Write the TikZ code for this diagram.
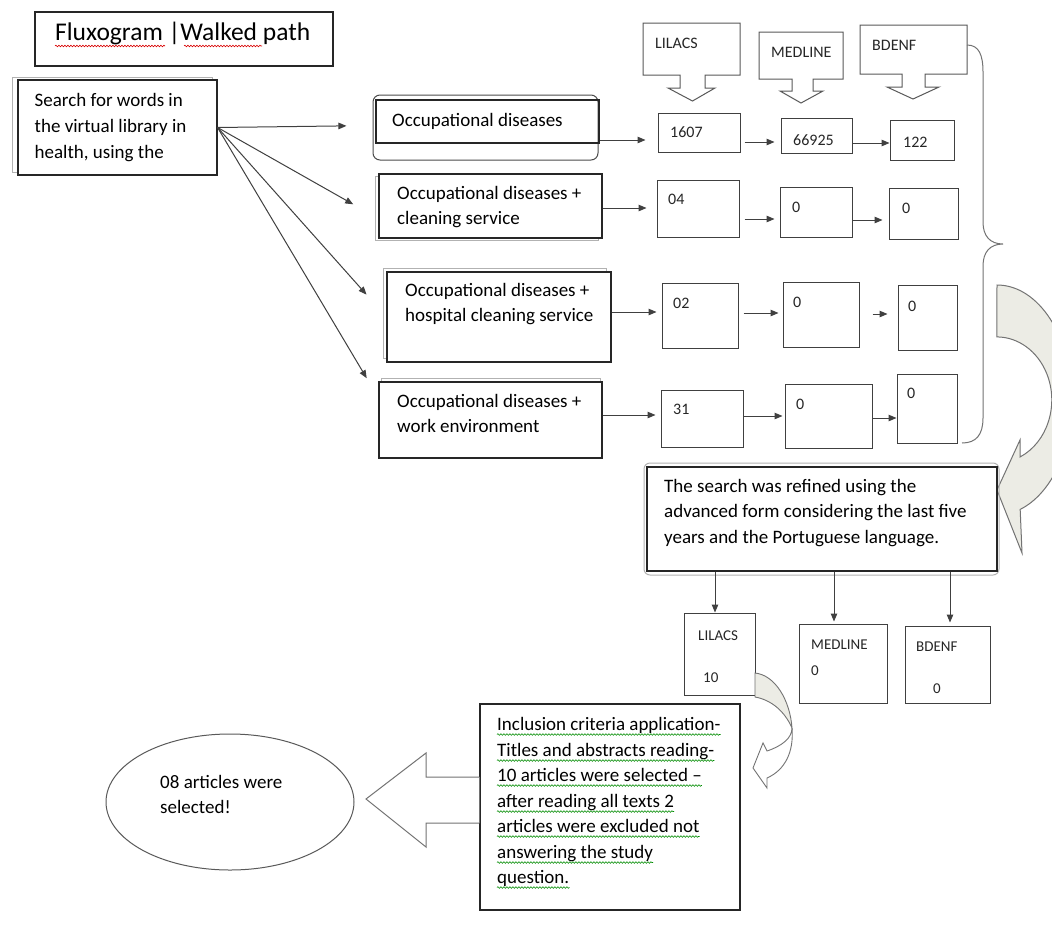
\documentclass[tikz,border=0pt]{standalone}
\usepackage{fontspec}
\setmainfont{Carlito}
\usetikzlibrary{arrows.meta,calc,shapes.geometric,decorations.pathmorphing}
\newcommand\Tstr{\rule{0pt}{16pt}}
\definecolor{arrfill}{RGB}{236,236,229}
\begin{document}
\begin{tikzpicture}[x=1pt,y=-1pt,
  bx/.style={draw=black!85, line width=1.1pt, rectangle, inner sep=0pt},
  nb/.style={draw=black!75, line width=1pt, rectangle, inner sep=0pt},
  shad/.style={draw=black!30, line width=1pt},
  txt/.style={inner sep=0pt, align=left, anchor=north west, font=\fontsize{19}{25.5}\selectfont},
  lbl/.style={inner sep=0pt, anchor=base west, font=\fontsize{16}{19}\selectfont, text=black!85},
  slbl/.style={inner sep=0pt, anchor=base west, font=\fontsize{15}{18}\selectfont, text=black!85},
  ln/.style={inner sep=0pt, anchor=base west, font=\fontsize{19}{25.5}\selectfont},
  arr/.style={draw=black!75, line width=1pt, -{Triangle[length=8pt,width=6.5pt]}},
  callout/.style={draw=black!65, line width=1pt, fill=white},
  sqr/.style={draw=red!85!black, line width=0.6pt, decorate, decoration={snake, amplitude=0.8pt, segment length=3pt}},
  sqg/.style={draw=green!55!black, line width=0.6pt, decorate, decoration={snake, amplitude=0.8pt, segment length=3pt}},
  curv/.style={draw=black!55, line width=1pt, fill=arrfill},
]
\useasboundingbox (0,0) rectangle (1052,924);
\fill[white] (0,0) rectangle (1052,924);
\clip (0,0) rectangle (1052,924);

% title
\node[bx, minimum width=298pt, minimum height=54pt] (title) at (184,39) {};
\node[inner sep=0pt, anchor=base west, font=\fontsize{25.5}{30}\selectfont] (ttl) at (55,40) {Fluxogram |Walked path};
\draw[sqr] ($(ttl.base west)+(0,6)$) -- ++(110,0);
\draw[sqr] ($(ttl.base west)+(129,6)$) -- ++(78,0);

% search box
\draw[shad] (12,77) rectangle (212,172);
\node[bx, fill=white, minimum width=199pt, minimum height=95pt] (s) at (117.5,127.5) {};
\node[txt, font=\fontsize{19}{26}\selectfont] (stxt) at (34.5,90) {\Tstr Search for words in\\the virtual library in\\health, using the};

% occupational boxes
\draw[draw=black!70, line width=1pt, rounded corners=7pt] (373,95) rectangle (598,160);
\node[bx, minimum width=223pt, minimum height=43pt] (o1) at (487.5,121.5) {};
\node[txt] (o1t) at (392,110) {\Tstr Occupational diseases};

\draw[shad] (375,176) rectangle (598,240);
\node[bx, fill=white, minimum width=223pt, minimum height=64pt] (o2) at (490.5,206) {};
\node[txt] (o2t) at (397,183) {\Tstr Occupational diseases +\\cleaning service};

\draw[shad] (383,268) rectangle (606,358);
\node[bx, fill=white, minimum width=224pt, minimum height=90pt] (o3) at (499,317) {};
\node[txt] (o3t) at (405,280) {\Tstr Occupational diseases +\\hospital cleaning service};

\draw[shad] (381,378) rectangle (600,456);
\node[bx, fill=white, minimum width=223pt, minimum height=76pt] (o4) at (490.5,420) {};
\node[txt] (o4t) at (397,391) {\Tstr Occupational diseases +\\work environment};

% fan arrows
\draw[arr, shorten >=29pt] (s.east) -- ($(o1.west)+(0,4)$);
\draw[arr, shorten >=29pt] (s.east) -- ($(o2.west)+(0,12.6)$);
\draw[arr, shorten >=30pt] (s.east) -- (o3.west);
\draw[arr, shorten >=23pt] (s.east) -- ($(o4.west)+(0,-22)$);

% header callouts
\draw[callout] (643,23) -- (740,23) -- (740,75) -- (705,75) -- (705,88) -- (715,88) -- (692.5,101) -- (668,88) -- (680,88) -- (680,75) -- (643,75) -- cycle;
\draw[callout] (759,32) -- (843,32) -- (843,79) -- (813,79) -- (813,91) -- (823,91) -- (801,103) -- (780,91) -- (792,91) -- (792,79) -- (759,79) -- cycle;
\draw[callout] (860,25) -- (967,25) -- (967,74) -- (925,74) -- (925,87) -- (939,87) -- (913,99) -- (887,87) -- (902,87) -- (902,74) -- (860,74) -- cycle;
\node[lbl] (hL) at (655,48) {LILACS};
\node[lbl] (hM) at (771,57) {MEDLINE};
\node[lbl] (hB) at (872,50) {BDENF};

% number boxes
\node[nb, minimum width=82pt, minimum height=39pt] (n11) at (699,132.5) {};
\node[nb, minimum width=71pt, minimum height=35pt] (n12) at (816.5,135.5) {};
\node[nb, minimum width=64pt, minimum height=40pt] (n13) at (922,140) {};
\node[nb, minimum width=82pt, minimum height=57pt] (n21) at (698,208.5) {};
\node[nb, minimum width=72pt, minimum height=50pt] (n22) at (816,212) {};
\node[nb, minimum width=69pt, minimum height=51pt] (n23) at (923.5,213.5) {};
\node[nb, minimum width=76pt, minimum height=65pt] (n31) at (700,315.5) {};
\node[nb, minimum width=76pt, minimum height=65pt] (n32) at (821,314.5) {};
\node[nb, minimum width=59pt, minimum height=65pt] (n33) at (927.5,317.5) {};
\node[nb, minimum width=82pt, minimum height=57pt] (n41) at (702,418.5) {};
\node[nb, minimum width=87pt, minimum height=64pt] (n42) at (828.5,416) {};
\node[nb, minimum width=60pt, minimum height=69pt] (n43) at (927,408.5) {};

\node[lbl] (v11) at (670,137) {1607};
\node[lbl] (v12) at (793,145) {66925};
\node[lbl] (v13) at (903,147) {122};
\node[lbl] (v21) at (668,204) {04};
\node[lbl] (v22) at (792,212) {0};
\node[lbl] (v23) at (902,213) {0};
\node[lbl] (v31) at (673,308) {02};
\node[lbl] (v32) at (793,307) {0};
\node[lbl] (v33) at (908,311) {0};
\node[lbl] (v41) at (673,414) {31};
\node[lbl] (v42) at (796,409) {0};
\node[lbl] (v43) at (907,398) {0};

% row arrows
\draw[arr, shorten >=12pt] ($(o1.east)+(0,18.5)$) -- ($(n11.west)+(0,7.5)$);
\draw[arr, shorten >=6pt] ($(n11.east)+(4,9.5)$) -- ($(n12.west)+(0,6.5)$);
\draw[arr] ($(n12.east)+(0,7.5)$) -- ($(n13.west)+(0,3)$);
\draw[arr, shorten >=10pt] ($(o2.east)+(0,2)$) -- ($(n21.west)+(0,-0.5)$);
\draw[arr, shorten >=5pt] ($(n21.east)+(5,10.5)$) -- ($(n22.west)+(0,7)$);
\draw[arr, shorten >=6pt] ($(n22.east)+(0,8)$) -- ($(n23.west)+(0,6.5)$);
\draw[arr, shorten >=5pt] ($(o3.east)+(0,-5)$) -- ($(n31.west)+(0,-3.5)$);
\draw[arr, shorten >=4pt] ($(n31.east)+(5,-2.5)$) -- ($(n32.west)+(0,-1.5)$);
\draw[arr, shorten >=10pt] ($(n32.east)+(13,-0.5)$) -- ($(n33.west)+(0,-3.5)$);
\draw[arr, shorten >=5pt] ($(o4.east)+(0,-5)$) -- ($(n41.west)+(0,-3.5)$);
\draw[arr, shorten >=2pt] ($(n41.east)+(0,-2.5)$) -- ($(n42.west)+(0,0)$);
\draw[arr] ($(n42.east)+(0,2)$) -- ($(n43.west)+(0,9.5)$);

% brace
\draw[black!55, line width=1pt] (967,45) .. controls (979,45) and (983,55) .. (983,72) -- (983,222) .. controls (983,236) and (990,244) .. (1003,244) .. controls (990,244) and (983,252) .. (983,266) -- (983,418) .. controls (983,435) and (976,443) .. (962,443);

% big curved arrow
\filldraw[curv] (997,285) arc[start angle=90, end angle=-72, x radius=75pt, y radius=115pt] -- (1022,553) -- (997,490) -- (1020,440) -- (1020,457) arc[start angle=-65, end angle=90, x radius=55pt, y radius=63pt] -- cycle;

% refine box
\draw[shad, rounded corners=6pt] (644,463) rectangle (999,575);
\node[bx, fill=white, minimum width=350pt, minimum height=104pt] (rf) at (822,519) {};
\node[txt] (rft) at (664,476) {\Tstr The search was refined using the\\advanced form considering the last five\\years and the Portuguese language.};

% bottom boxes
\node[nb, minimum width=71pt, minimum height=82pt] (bl) at (719.5,654) {};
\node[nb, minimum width=88pt, minimum height=79pt] (bm) at (843,663.5) {};
\node[nb, minimum width=85pt, minimum height=77pt] (bb) at (947.5,664.5) {};
\draw[arr] ($(rf.south)+(-107,0)$) -- ($(bl.north)+(-4.5,0)$);
\draw[arr, shorten >=2pt] ($(rf.south)+(12,0)$) -- ($(bm.north)+(-9,0)$);
\draw[arr, shorten >=3pt] ($(rf.south)+(128,0)$) -- ($(bb.north)+(2.5,0)$);
\node[slbl] (bl1) at (698,640) {LILACS};
\node[slbl] (bl2) at (703,682) {10};
\node[slbl] (bm1) at (811,649) {MEDLINE};
\node[slbl] (bm2) at (811,675) {0};
\node[slbl] (bb1) at (916,651) {BDENF};
\node[slbl] (bb2) at (933,693) {0};

% small curved arrow
\filldraw[curv, line width=0.9pt] (755,673) .. controls (775,675) and (790,700) .. (792,728) .. controls (785,712) and (772,700) .. (755,697) -- cycle;
\filldraw[curv, fill=white, line width=0.9pt] (792,728) .. controls (792,738) and (782,746) .. (767,751) -- (763,743) -- (753,768) -- (767,788) -- (767,778) .. controls (785,770) and (794,752) .. (792,728) -- cycle;

% inclusion box
\node[bx, fill=white, minimum width=260pt, minimum height=206pt] (inc) at (610,807) {};
\node[ln] (i1) at (497,730) {Inclusion criteria application-};
\node[ln] (i2) at (497,756) {Titles and abstracts reading-};
\node[ln] (i3) at (497,781) {10 articles were selected –};
\node[ln] (i4) at (497,807) {after reading all texts 2};
\node[ln] (i5) at (497,832) {articles were excluded not};
\node[ln] (i6) at (497,858) {answering the study};
\node[ln] (i7) at (497,883) {question.};
\foreach \n in {i1,i2,i3,i4,i5,i6,i7}{
  \draw[sqg] ($(\n.base west)+(0,4.5)$) -- ($(\n.base east)+(0,4.5)$);
}

% block arrow
\draw[draw=black!55, line width=1pt, fill=white] ($(inc.west)+(0,-30)$) -- (426,777) -- (426,753) -- (366,799) -- (426,847) -- (426,823) -- ($(inc.west)+(0,16)$);

% ellipse
\node[ellipse, draw=black!65, line width=1pt, minimum width=248pt, minimum height=136pt, inner sep=0pt] (el) at (230,802) {};
\node[txt, font=\fontsize{19}{25}\selectfont] (elt) at (160,772) {\Tstr 08 articles were\\selected!};
\end{tikzpicture}
\end{document}
